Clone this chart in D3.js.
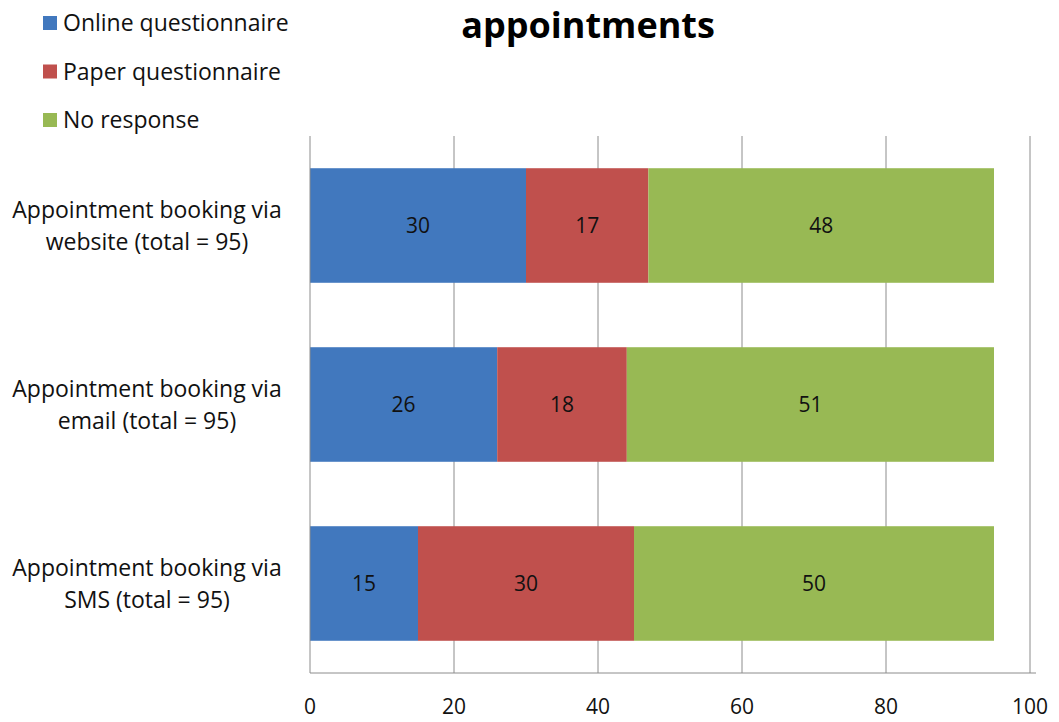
<!DOCTYPE html>
<html><head><meta charset="utf-8">
<script src="https://cdn.jsdelivr.net/npm/d3@7/dist/d3.min.js"></script>
<style>body{margin:0;background:#fff}svg{display:block}</style>
</head><body><svg id="c" width="1059" height="722"></svg>
<script>
const categories = [
  ["Appointment booking via", "website (total = 95)"],
  ["Appointment booking via", "email (total = 95)"],
  ["Appointment booking via", "SMS (total = 95)"]
];
const seriesNames = ["Online questionnaire", "Paper questionnaire", "No response"];
const online = [30, 26, 15];
const paper = [17, 18, 30];
const noResponse = [48, 51, 50];
const xTicks = [0, 20, 40, 60, 80, 100];
const colors = ["#4178BE", "#C0504D", "#98B954"];
const title = "appointments";

const font = "'Open Sans', 'Liberation Sans', sans-serif";
const svg = d3.select("#c");
const m = {l: 310, r: 1030, t: 136, b: 673};
const x = d3.scaleLinear().domain([0, 100]).range([m.l, m.r]);
const y = d3.scaleBand().domain(d3.range(categories.length)).range([m.t, m.b]).paddingInner(0.36).paddingOuter(0.18);

const rows = categories.map((c, i) => ({i, vals: [online[i], paper[i], noResponse[i]]}));

// gridlines
svg.append("g").selectAll("line").data(xTicks.slice(1)).join("line")
  .attr("x1", d => x(d)).attr("x2", d => x(d)).attr("y1", m.t).attr("y2", m.b)
  .attr("stroke", "#8c8c8c").attr("stroke-width", 1);

// bars
rows.forEach(r => {
  let acc = 0;
  const g = svg.append("g");
  r.vals.forEach((v, k) => {
    const x0 = acc; acc += v;
    g.append("rect").attr("x", x(x0)).attr("width", x(acc) - x(x0))
      .attr("y", y(r.i)).attr("height", y.bandwidth()).attr("fill", colors[k]);
    g.append("text").attr("x", (x(x0) + x(acc)) / 2).attr("y", y(r.i) + y.bandwidth() / 2)
      .attr("dy", "0.35em").attr("text-anchor", "middle")
      .attr("font-family", font).attr("font-size", 21).attr("fill", "#111").text(v);
  });
});

// axes lines
svg.append("line").attr("x1", m.l).attr("x2", m.l).attr("y1", m.t).attr("y2", m.b).attr("stroke", "#8c8c8c");
svg.append("line").attr("x1", m.l).attr("x2", m.r + 6).attr("y1", m.b).attr("y2", m.b).attr("stroke", "#8c8c8c");

// x tick labels
svg.append("g").selectAll("text").data(xTicks).join("text")
  .attr("x", d => x(d)).attr("y", 714).attr("text-anchor", "middle")
  .attr("font-family", font).attr("font-size", 21).attr("fill", "#111").text(d => d);

// category labels
rows.forEach(r => {
  const cy = y(r.i) + y.bandwidth() / 2;
  const t = svg.append("text").attr("text-anchor", "middle")
    .attr("font-family", font).attr("font-size", 23).attr("fill", "#111");
  categories[r.i].forEach((line, j) => {
    t.append("tspan").attr("x", 147).attr("y", cy - 16 + j * 32 + 8).text(line);
  });
});

// legend
seriesNames.forEach((s, k) => {
  const ly = 23 + k * 48.5;
  svg.append("rect").attr("x", 43).attr("y", ly - 7).attr("width", 14).attr("height", 14).attr("fill", colors[k]);
  svg.append("text").attr("x", 63).attr("y", ly).attr("dy", "0.35em")
    .attr("font-family", font).attr("font-size", 23).attr("fill", "#111").text(s);
});

// title
svg.append("text").attr("x", 588).attr("y", 38).attr("text-anchor", "middle")
  .attr("font-family", font).attr("font-weight", "bold").attr("font-size", 36).attr("fill", "#000").text(title);
</script></body></html>
